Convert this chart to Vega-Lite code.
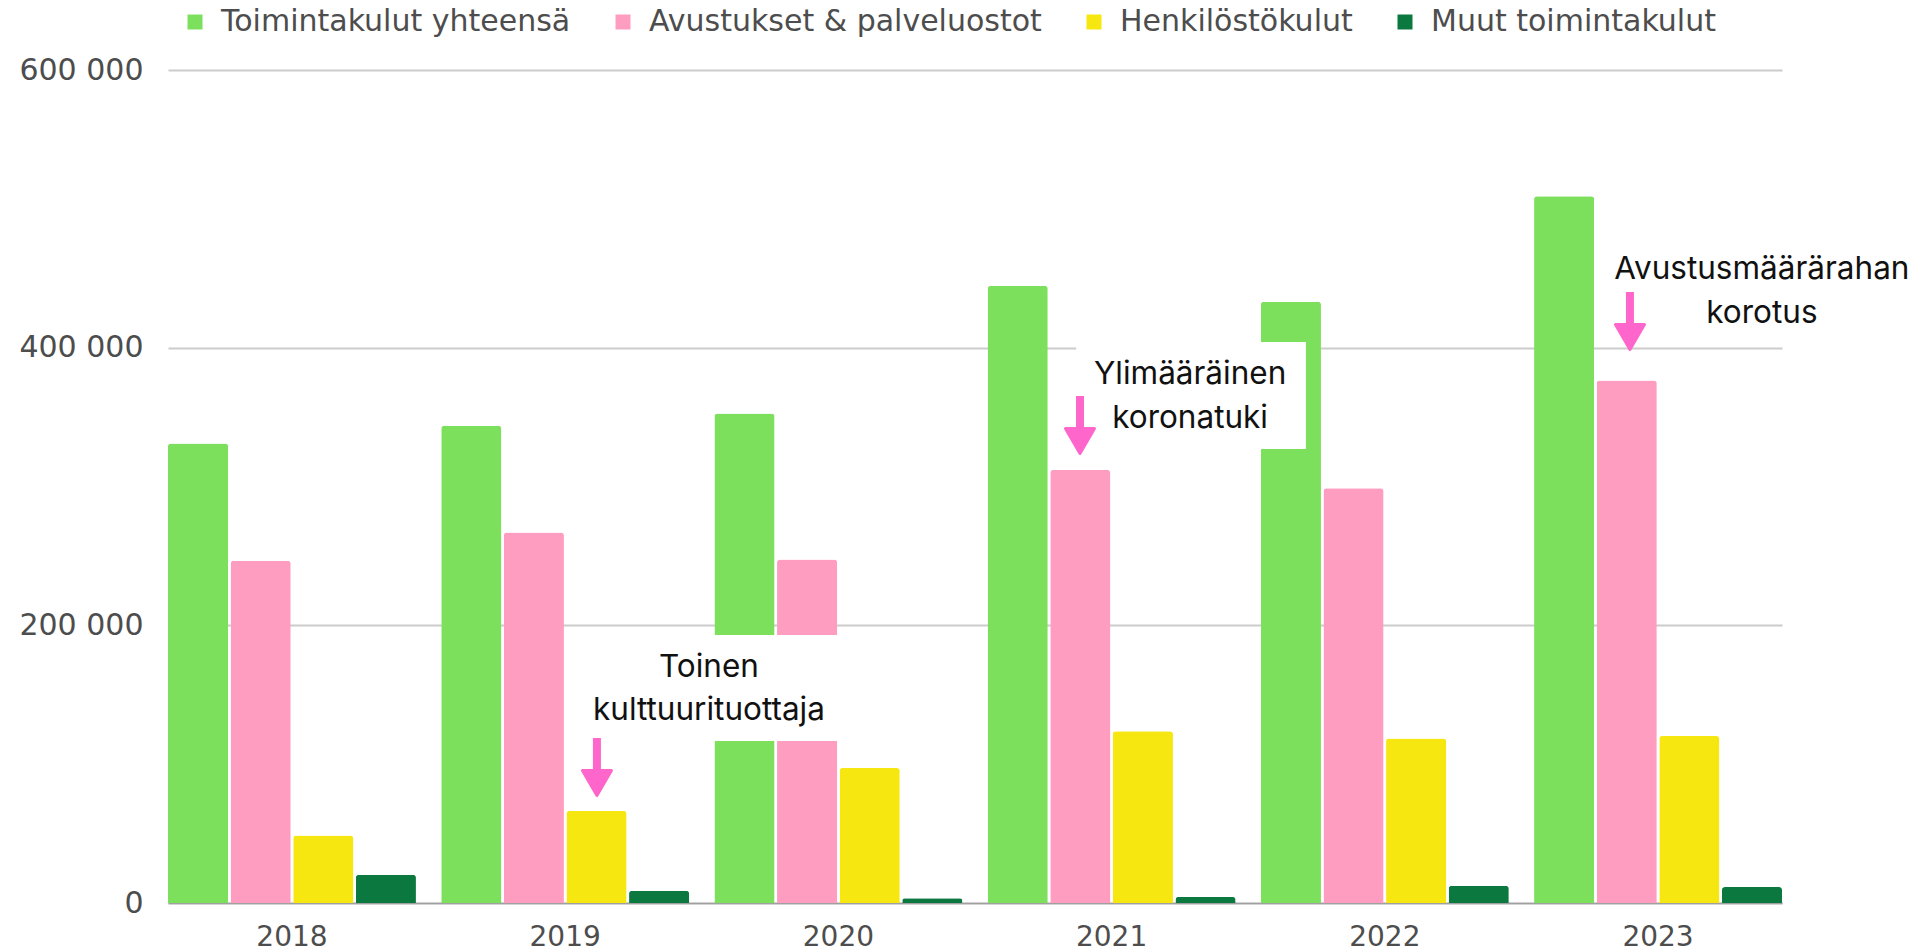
{
  "$schema": "https://vega.github.io/schema/vega-lite/v6.json",
  "autosize": {"type": "none"},
  "width": 1614,
  "height": 833,
  "padding": {"left": 168, "top": 70, "right": 141, "bottom": 48},
  "background": "white",
  "config": {"view": {"stroke": null}},
  "datasets": {
    "bars": [
      {"year": "2018", "series": "Toimintakulut yhteensä", "value": 331000},
      {"year": "2018", "series": "Avustukset & palveluostot", "value": 246500},
      {"year": "2018", "series": "Henkilöstökulut", "value": 48600},
      {"year": "2018", "series": "Muut toimintakulut", "value": 20300},
      {"year": "2019", "series": "Toimintakulut yhteensä", "value": 343700},
      {"year": "2019", "series": "Avustukset & palveluostot", "value": 266800},
      {"year": "2019", "series": "Henkilöstökulut", "value": 66300},
      {"year": "2019", "series": "Muut toimintakulut", "value": 8800},
      {"year": "2020", "series": "Toimintakulut yhteensä", "value": 352600},
      {"year": "2020", "series": "Avustukset & palveluostot", "value": 247400},
      {"year": "2020", "series": "Henkilöstökulut", "value": 97200},
      {"year": "2020", "series": "Muut toimintakulut", "value": 3500},
      {"year": "2021", "series": "Toimintakulut yhteensä", "value": 444500},
      {"year": "2021", "series": "Avustukset & palveluostot", "value": 311900},
      {"year": "2021", "series": "Henkilöstökulut", "value": 123700},
      {"year": "2021", "series": "Muut toimintakulut", "value": 4400},
      {"year": "2022", "series": "Toimintakulut yhteensä", "value": 433000},
      {"year": "2022", "series": "Avustukset & palveluostot", "value": 298700},
      {"year": "2022", "series": "Henkilöstökulut", "value": 118400},
      {"year": "2022", "series": "Muut toimintakulut", "value": 12400},
      {"year": "2023", "series": "Toimintakulut yhteensä", "value": 509000},
      {"year": "2023", "series": "Avustukset & palveluostot", "value": 376400},
      {"year": "2023", "series": "Henkilöstökulut", "value": 120200},
      {"year": "2023", "series": "Muut toimintakulut", "value": 11500}
    ],
    "ann": [
      {"kind": "box", "u": 1.49, "u2": 2.489, "v": 193037, "v2": 116687},
      {"kind": "box", "u": 3.324, "u2": 4.165, "v": 404082, "v2": 327011},
      {"kind": "arrow", "u": 1.57, "v": 118848, "v2": 86435},
      {"kind": "arrow", "u": 3.338, "v": 365186, "v2": 332773},
      {"kind": "arrow", "u": 5.351, "v": 440096, "v2": 407683},
      {"kind": "text", "u": 1.98, "v": 162785, "label": "Toinen"},
      {"kind": "text", "u": 1.98, "v": 131813, "label": "kulttuurituottaja"},
      {"kind": "text", "u": 3.741, "v": 373830, "label": "Ylimääräinen"},
      {"kind": "text", "u": 3.741, "v": 342137, "label": "koronatuki"},
      {"kind": "text", "u": 5.834, "v": 449460, "label": "Avustusmäärärahan"},
      {"kind": "text", "u": 5.834, "v": 417767, "label": "korotus"}
    ]
  },
  "layer": [
    {
      "data": {"name": "bars"},
      "mark": {"type": "bar", "cornerRadiusTopLeft": 3, "cornerRadiusTopRight": 3},
      "encoding": {
        "x": {
          "field": "year", "type": "nominal",
          "scale": {"paddingInner": 0.0925, "paddingOuter": 0},
          "axis": {"title": null, "labelAngle": 0, "labelFont": "DejaVu Sans", "labelFontSize": 28, "labelColor": "#4d4d4d", "labelPadding": 20, "ticks": false, "domain": true, "domainColor": "#a0a0a0", "domainWidth": 1.5}
        },
        "xOffset": {
          "field": "series", "type": "nominal",
          "sort": ["Toimintakulut yhteensä", "Avustukset & palveluostot", "Henkilöstökulut", "Muut toimintakulut"],
          "scale": {"paddingInner": 0.04, "paddingOuter": 0}
        },
        "y": {
          "field": "value", "type": "quantitative",
          "scale": {"domain": [0, 600000], "nice": false},
          "axis": {"title": null, "values": [0, 200000, 400000, 600000], "labelExpr": "replace(format(datum.value, ',d'), regexp(',', 'g'), ' ')", "labelFont": "DejaVu Sans", "labelFontSize": 30, "labelColor": "#4d4d4d", "labelPadding": 25, "ticks": false, "domain": false, "grid": true, "gridColor": "#cccccc", "gridWidth": 2}
        },
        "color": {
          "field": "series", "type": "nominal",
          "scale": {
            "domain": ["Toimintakulut yhteensä", "Avustukset & palveluostot", "Henkilöstökulut", "Muut toimintakulut"],
            "range": ["#7ce05c", "#ff9dc1", "#f7e710", "#0b7840"]
          },
          "legend": {
            "title": null, "orient": "none", "direction": "horizontal",
            "legendX": 12, "legendY": -63, "padding": 0,
            "symbolType": "square", "symbolSize": 225, "symbolStrokeWidth": 0,
            "labelFont": "DejaVu Sans", "labelFontSize": 30, "labelColor": "#4d4d4d",
            "labelOffset": 11, "columnPadding": 37, "labelLimit": 1000
          }
        }
      }
    },
    {
      "data": {"name": "ann"},
      "layer": [
        {
          "transform": [{"filter": "datum.kind === 'box'"}],
          "mark": {"type": "rect", "color": "white", "opacity": 1},
          "encoding": {
            "x": {"field": "u", "type": "quantitative", "scale": {"domain": [0, 5.9075], "nice": false, "zero": false}, "axis": null},
            "x2": {"field": "u2"},
            "y": {"field": "v", "type": "quantitative", "axis": null},
            "y2": {"field": "v2"}
          }
        },
        {
          "transform": [{"filter": "datum.kind === 'arrow'"}],
          "mark": {"type": "rule", "color": "#ff66cc", "strokeWidth": 8, "strokeCap": "butt"},
          "encoding": {
            "x": {"field": "u", "type": "quantitative", "scale": {"domain": [0, 5.9075], "nice": false, "zero": false}, "axis": null},
            "y": {"field": "v", "type": "quantitative", "axis": null},
            "y2": {"field": "v2"}
          }
        },
        {
          "transform": [{"filter": "datum.kind === 'arrow'"}],
          "mark": {"type": "point", "shape": "triangle-down", "size": 841, "filled": true, "color": "#ff66cc", "opacity": 1, "stroke": "#ff66cc", "strokeWidth": 3, "strokeJoin": "round"},
          "encoding": {
            "x": {"field": "u", "type": "quantitative", "scale": {"domain": [0, 5.9075], "nice": false, "zero": false}, "axis": null},
            "y": {"field": "v2", "type": "quantitative", "axis": null}
          }
        },
        {
          "transform": [{"filter": "datum.kind === 'text'"}],
          "mark": {"type": "text", "font": "Inter", "fontSize": 31.5, "color": "#111111", "align": "center", "baseline": "alphabetic"},
          "encoding": {
            "x": {"field": "u", "type": "quantitative", "scale": {"domain": [0, 5.9075], "nice": false, "zero": false}, "axis": null},
            "y": {"field": "v", "type": "quantitative", "axis": null},
            "text": {"field": "label"}
          }
        }
      ]
    }
  ],
  "resolve": {"scale": {"x": "independent"}, "axis": {"y": "independent"}}
}
